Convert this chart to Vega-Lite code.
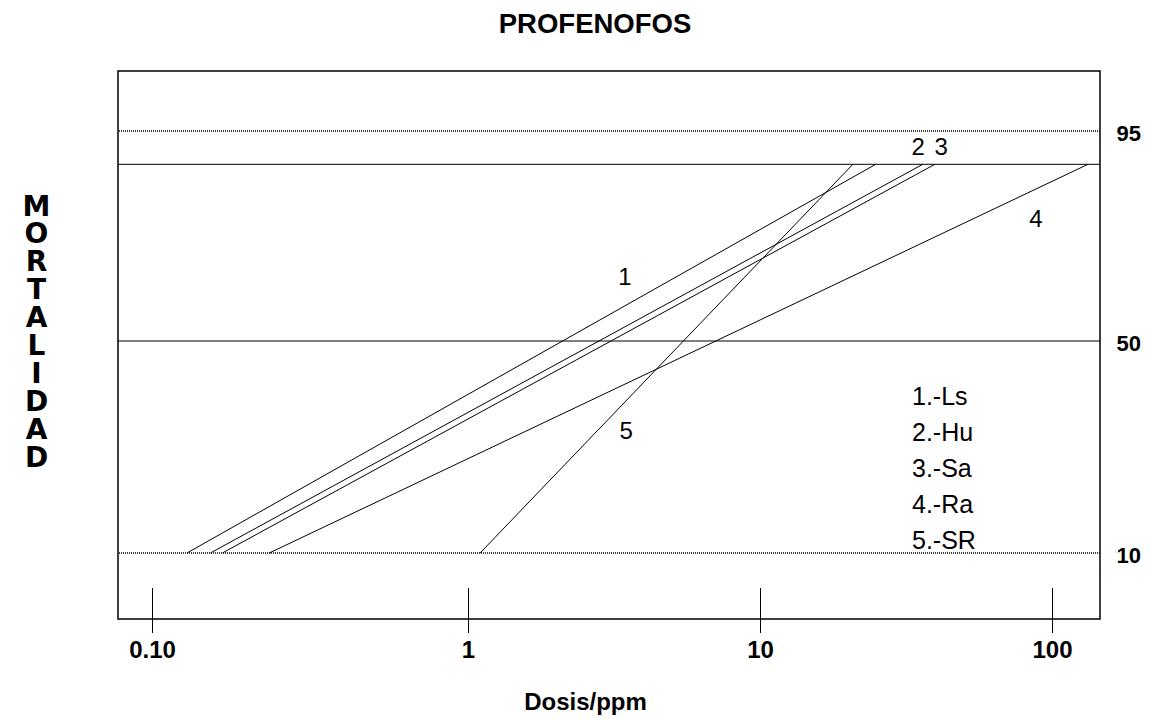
{
  "$schema": "https://vega.github.io/schema/vega-lite/v6.json",
  "width": 982,
  "height": 548,
  "autosize": {"type": "none"},
  "padding": {"left": 118, "top": 71, "right": 51, "bottom": 100},
  "background": "white",
  "config": {
    "view": {"stroke": "black", "strokeWidth": 1.5},
    "font": "Liberation Sans"
  },
  "title": {
    "text": "PROFENOFOS",
    "font": "Liberation Sans",
    "fontSize": 27.5,
    "fontWeight": "bold",
    "color": "black",
    "anchor": "middle",
    "frame": "group",
    "baseline": "alphabetic",
    "offset": 37,
    "dx": -14,
    "dy": 26
  },
  "datasets": {
    "lineas": [
      {"serie": "1.-Ls", "dosis": 0.129, "mortalidad": 10},
      {"serie": "1.-Ls", "dosis": 24.9, "mortalidad": 90},
      {"serie": "2.-Hu", "dosis": 0.153, "mortalidad": 10},
      {"serie": "2.-Hu", "dosis": 36.1, "mortalidad": 90},
      {"serie": "3.-Sa", "dosis": 0.167, "mortalidad": 10},
      {"serie": "3.-Sa", "dosis": 39.7, "mortalidad": 90},
      {"serie": "4.-Ra", "dosis": 0.235, "mortalidad": 10},
      {"serie": "4.-Ra", "dosis": 132.8, "mortalidad": 90},
      {"serie": "5.-SR", "dosis": 1.10, "mortalidad": 10},
      {"serie": "5.-SR", "dosis": 20.8, "mortalidad": 90}
    ],
    "niveles_limite": [{"mortalidad": 90}, {"mortalidad": 50}],
    "niveles_referencia": [{"mortalidad": 95}, {"mortalidad": 10}],
    "etiquetas": [
      {"numero": "1", "dosis": 3.45, "mortalidad": 64.3},
      {"numero": "2", "dosis": 34.8, "mortalidad": 92.45},
      {"numero": "3", "dosis": 41.7, "mortalidad": 92.45},
      {"numero": "4", "dosis": 88.1, "mortalidad": 77.4},
      {"numero": "5", "dosis": 3.48, "mortalidad": 32.8}
    ]
  },
  "layer": [
    {
      "data": {"name": "niveles_referencia"},
      "mark": {"type": "rule", "color": "black", "strokeWidth": 1.5, "strokeDash": [1, 1]},
      "encoding": {
        "y": {
          "field": "mortalidad",
          "type": "quantitative",
          "scale": {"type": "linear", "domain": [10, 50, 90, 95], "range": [482, 270, 93.3, 60], "zero": false, "nice": false},
          "axis": {
            "orient": "right",
            "values": [10, 50, 95],
            "domain": false,
            "ticks": false,
            "grid": false,
            "labelFlush": false,
            "labelFont": "Liberation Sans",
            "labelFontSize": 22,
            "labelFontWeight": "bold",
            "labelColor": "black",
            "labelPadding": 16,
            "labelAlign": "left",
            "labelBaseline": "middle",
            "labelOffset": 2,
            "title": null
          }
        }
      }
    },
    {
      "data": {"name": "niveles_limite"},
      "mark": {"type": "rule", "color": "black", "strokeWidth": 1},
      "encoding": {
        "y": {
          "field": "mortalidad",
          "type": "quantitative",
          "axis": {
            "orient": "left",
            "labels": false,
            "ticks": false,
            "domain": false,
            "grid": false,
            "title": ["M", "O", "R", "T", "A", "L", "I", "D", "A", "D"],
            "titleAngle": 0,
            "titleAlign": "center",
            "titleBaseline": "top",
            "titleFont": "DejaVu Sans",
            "titleFontSize": 28,
            "titleFontWeight": "bold",
            "titleColor": "black",
            "titleLineHeight": 27.9,
            "titleX": -82,
            "titleY": 122
          }
        }
      }
    },
    {
      "data": {"name": "lineas"},
      "mark": {"type": "line", "strokeWidth": 1},
      "encoding": {
        "x": {
          "field": "dosis",
          "type": "quantitative",
          "scale": {"type": "log", "domain": [0.1, 1, 10, 100], "range": [34, 350, 642, 934], "nice": false},
          "axis": {
            "orient": "bottom",
            "values": [0.1, 1, 10, 100],
            "offset": -31.5,
            "tickSize": 45,
            "tickColor": "black",
            "tickWidth": 1,
            "domain": false,
            "grid": false,
            "labelFlush": false,
            "labelExpr": "datum.value < 0.5 ? '0.10' : format(datum.value, 'd')",
            "labelFont": "Liberation Sans",
            "labelFontSize": 24,
            "labelFontWeight": "bold",
            "labelColor": "black",
            "labelPadding": 6,
            "title": "Dosis/ppm",
            "titleFont": "Liberation Sans",
            "titleFontSize": 24,
            "titleFontWeight": "bold",
            "titleColor": "black",
            "titleAlign": "center",
            "titleBaseline": "alphabetic",
            "titleX": 467,
            "titleY": 121.5
          }
        },
        "y": {"field": "mortalidad", "type": "quantitative", "axis": null},
        "color": {
          "field": "serie",
          "type": "nominal",
          "scale": {"range": ["black", "black", "black", "black", "black"]},
          "legend": {
            "orient": "none",
            "legendX": 769,
            "legendY": 313,
            "title": null,
            "padding": 0,
            "labelFont": "Liberation Sans",
            "labelFontSize": 25,
            "labelColor": "black",
            "labelOffset": 0,
            "symbolType": "stroke",
            "symbolSize": 0,
            "symbolStrokeWidth": 0,
            "symbolOpacity": 0,
            "rowPadding": 10
          }
        }
      }
    },
    {
      "data": {"name": "etiquetas"},
      "mark": {"type": "text", "font": "Liberation Sans", "fontSize": 24, "color": "black", "align": "center", "baseline": "middle"},
      "encoding": {
        "x": {"field": "dosis", "type": "quantitative"},
        "y": {"field": "mortalidad", "type": "quantitative", "axis": null},
        "text": {"field": "numero"}
      }
    }
  ],
  "resolve": {"axis": {"y": "independent"}}
}
